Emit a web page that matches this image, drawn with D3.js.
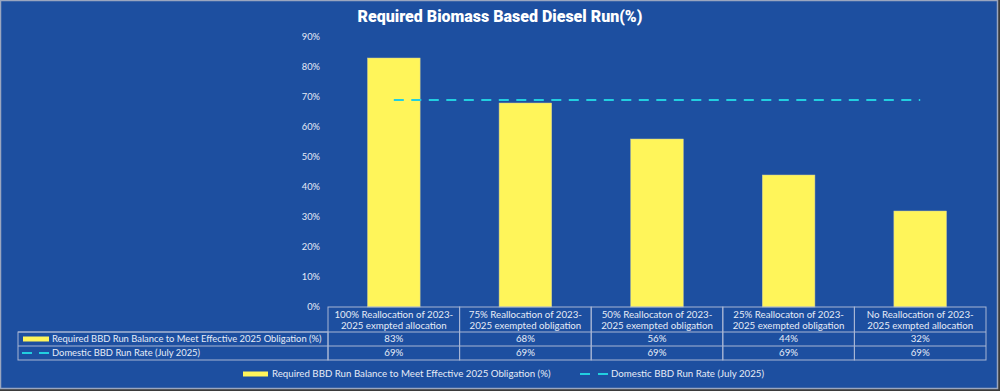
<!DOCTYPE html>
<html>
<head>
<meta charset="utf-8">
<script src="https://cdn.jsdelivr.net/npm/d3@7"></script>
<style>
  html, body { margin: 0; padding: 0; background: #3b3b3b; }
  svg { display: block; font-family: "Lato", "Open Sans", sans-serif; }
</style>
</head>
<body>
<div id="wrapper"></div>
<script>
const categories = [
  ["100% Reallocation of 2023-", "2025 exmpted allocation"],
  ["75% Reallocation of 2023-", "2025 exempted obligation"],
  ["50% Reallocaton of 2023-", "2025 exempted obligation"],
  ["25% Reallocaton of 2023-", "2025 exempted obligation"],
  ["No Reallocation of 2023-", "2025 exmpted allocation"]
]
const requiredRun = [83, 68, 56, 44, 32]
const domesticRate = [69, 69, 69, 69, 69]
const yTicks = [0, 10, 20, 30, 40, 50, 60, 70, 80, 90]
const seriesNames = [
  "Required BBD Run Balance to Meet Effective 2025 Obligation (%)",
  "Domestic BBD Run Rate (July 2025)"
]

const bg = "#1d4fa0"
const yellow = "#fff55a"
const cyan = "#22cfe0"
const gridCol = "#a8b6d4"
const textCol = "#e6ecf7"
const fs = "9.7px"

const dims = {
  width: 1000,
  height: 391,
  margin: { top: 37, right: 14, bottom: 84, left: 328 },
}
dims.boundedWidth = dims.width - dims.margin.left - dims.margin.right
dims.boundedHeight = dims.height - dims.margin.top - dims.margin.bottom

const svg = d3.select("#wrapper")
  .append("svg")
  .attr("width", dims.width)
  .attr("height", dims.height)

// frame
svg.append("rect")
  .attr("x", 0.5).attr("y", 0.5)
  .attr("width", 997).attr("height", 388)
  .attr("fill", bg)
  .attr("stroke", "#9aa6bf")
  .attr("stroke-width", 1.5)

svg.append("text")
  .attr("x", 500).attr("y", 21.5)
  .attr("text-anchor", "middle")
  .attr("fill", "#ffffff")
  .style("font-family", "Roboto, sans-serif")
  .style("font-weight", 900)
  .style("font-size", "16px")
  .text("Required Biomass Based Diesel Run(%)")

const bounds = svg.append("g")
  .attr("transform", `translate(${dims.margin.left},${dims.margin.top})`)

const xScale = d3.scaleBand()
  .domain(d3.range(categories.length))
  .range([0, dims.boundedWidth])
  .paddingInner(0.6)
  .paddingOuter(0.3)

const bandStep = dims.boundedWidth / categories.length
const colX = i => i * bandStep

const yScale = d3.scaleLinear()
  .domain([0, 90])
  .range([dims.boundedHeight, 0])

// y axis
const yAxis = bounds.append("g")
  .call(d3.axisLeft(yScale).tickValues(yTicks).tickFormat(d => d + "%").tickSize(0).tickPadding(8))
yAxis.select(".domain").remove()
yAxis.selectAll("text")
  .attr("fill", textCol)
  .style("font-size", "9.3px")
  .style("font-family", "Lato, sans-serif")

// bars
bounds.selectAll(".bar")
  .data(requiredRun)
  .join("rect")
  .attr("class", "bar")
  .attr("x", (d, i) => colX(i) + (bandStep - xScale.bandwidth()) / 2)
  .attr("y", d => yScale(d))
  .attr("width", xScale.bandwidth())
  .attr("height", d => dims.boundedHeight - yScale(d))
  .attr("fill", yellow)
  .attr("stroke", "#c9c9a0")
  .attr("stroke-width", 0.5)

// dashed line
const line = d3.line()
  .x((d, i) => colX(i) + bandStep / 2)
  .y(d => yScale(d))
bounds.append("path")
  .datum(domesticRate)
  .attr("d", line)
  .attr("fill", "none")
  .attr("stroke", cyan)
  .attr("stroke-width", 2.2)
  .attr("stroke-dasharray", "10 7.5")

// data table
const table = bounds.append("g")
  .attr("transform", `translate(0,${dims.boundedHeight})`)
const headH = 25, rowH = 14
const tableLeft = 18 - dims.margin.left
const lineAttrs = sel => sel.attr("stroke", gridCol).attr("stroke-width", 1).attr("fill", "none")

// header cells
categories.forEach((c, i) => {
  table.append("rect").call(lineAttrs)
    .attr("x", colX(i)).attr("y", 0)
    .attr("width", bandStep).attr("height", headH + 2 * rowH)
  const t = table.append("text")
    .attr("x", colX(i) + bandStep / 2)
    .attr("text-anchor", "middle")
    .attr("fill", textCol)
    .style("font-size", fs)
  c.forEach((s, j) => t.append("tspan").attr("x", colX(i) + bandStep / 2).attr("y", 11 + j * 11).text(s))
})

// legend column + row lines
table.append("rect").call(lineAttrs)
  .attr("x", tableLeft).attr("y", headH)
  .attr("width", -tableLeft).attr("height", 2 * rowH)
table.append("line").call(lineAttrs)
  .attr("x1", tableLeft).attr("x2", dims.boundedWidth)
  .attr("y1", headH).attr("y2", headH)
table.append("line").call(lineAttrs)
  .attr("x1", tableLeft).attr("x2", dims.boundedWidth)
  .attr("y1", headH + rowH).attr("y2", headH + rowH)

const rows = [requiredRun, domesticRate]
rows.forEach((vals, r) => {
  const cy = headH + rowH * r + rowH / 2
  if (r === 0) {
    table.append("rect")
      .attr("x", tableLeft + 5).attr("y", cy - 2.5)
      .attr("width", 26).attr("height", 5)
      .attr("fill", yellow)
  } else {
    table.append("line")
      .attr("x1", tableLeft + 4).attr("x2", tableLeft + 31)
      .attr("y1", cy).attr("y2", cy)
      .attr("stroke", cyan).attr("stroke-width", 2.2)
      .attr("stroke-dasharray", "10 7")
  }
  table.append("text")
    .attr("x", tableLeft + 34).attr("y", cy + 3.4)
    .attr("fill", textCol)
    .style("font-size", "9.4px")
    .text(seriesNames[r])
  vals.forEach((v, i) => {
    table.append("text")
      .attr("x", colX(i) + bandStep / 2).attr("y", cy + 3.4)
      .attr("text-anchor", "middle")
      .attr("fill", textCol)
      .style("font-size", fs)
      .text(v + "%")
  })
})

// bottom legend
const legend = svg.append("g").attr("transform", "translate(0,374)")
legend.append("rect")
  .attr("x", 243).attr("y", -2.5).attr("width", 25).attr("height", 5)
  .attr("fill", yellow)
legend.append("text")
  .attr("x", 272).attr("y", 3.4)
  .attr("fill", textCol).style("font-size", fs)
  .text(seriesNames[0])
legend.append("line")
  .attr("x1", 580).attr("x2", 609).attr("y1", 0).attr("y2", 0)
  .attr("stroke", cyan).attr("stroke-width", 2.2)
  .attr("stroke-dasharray", "10 8")
legend.append("text")
  .attr("x", 611).attr("y", 3.4)
  .attr("fill", textCol).style("font-size", fs)
  .text(seriesNames[1])
</script>
</body>
</html>
